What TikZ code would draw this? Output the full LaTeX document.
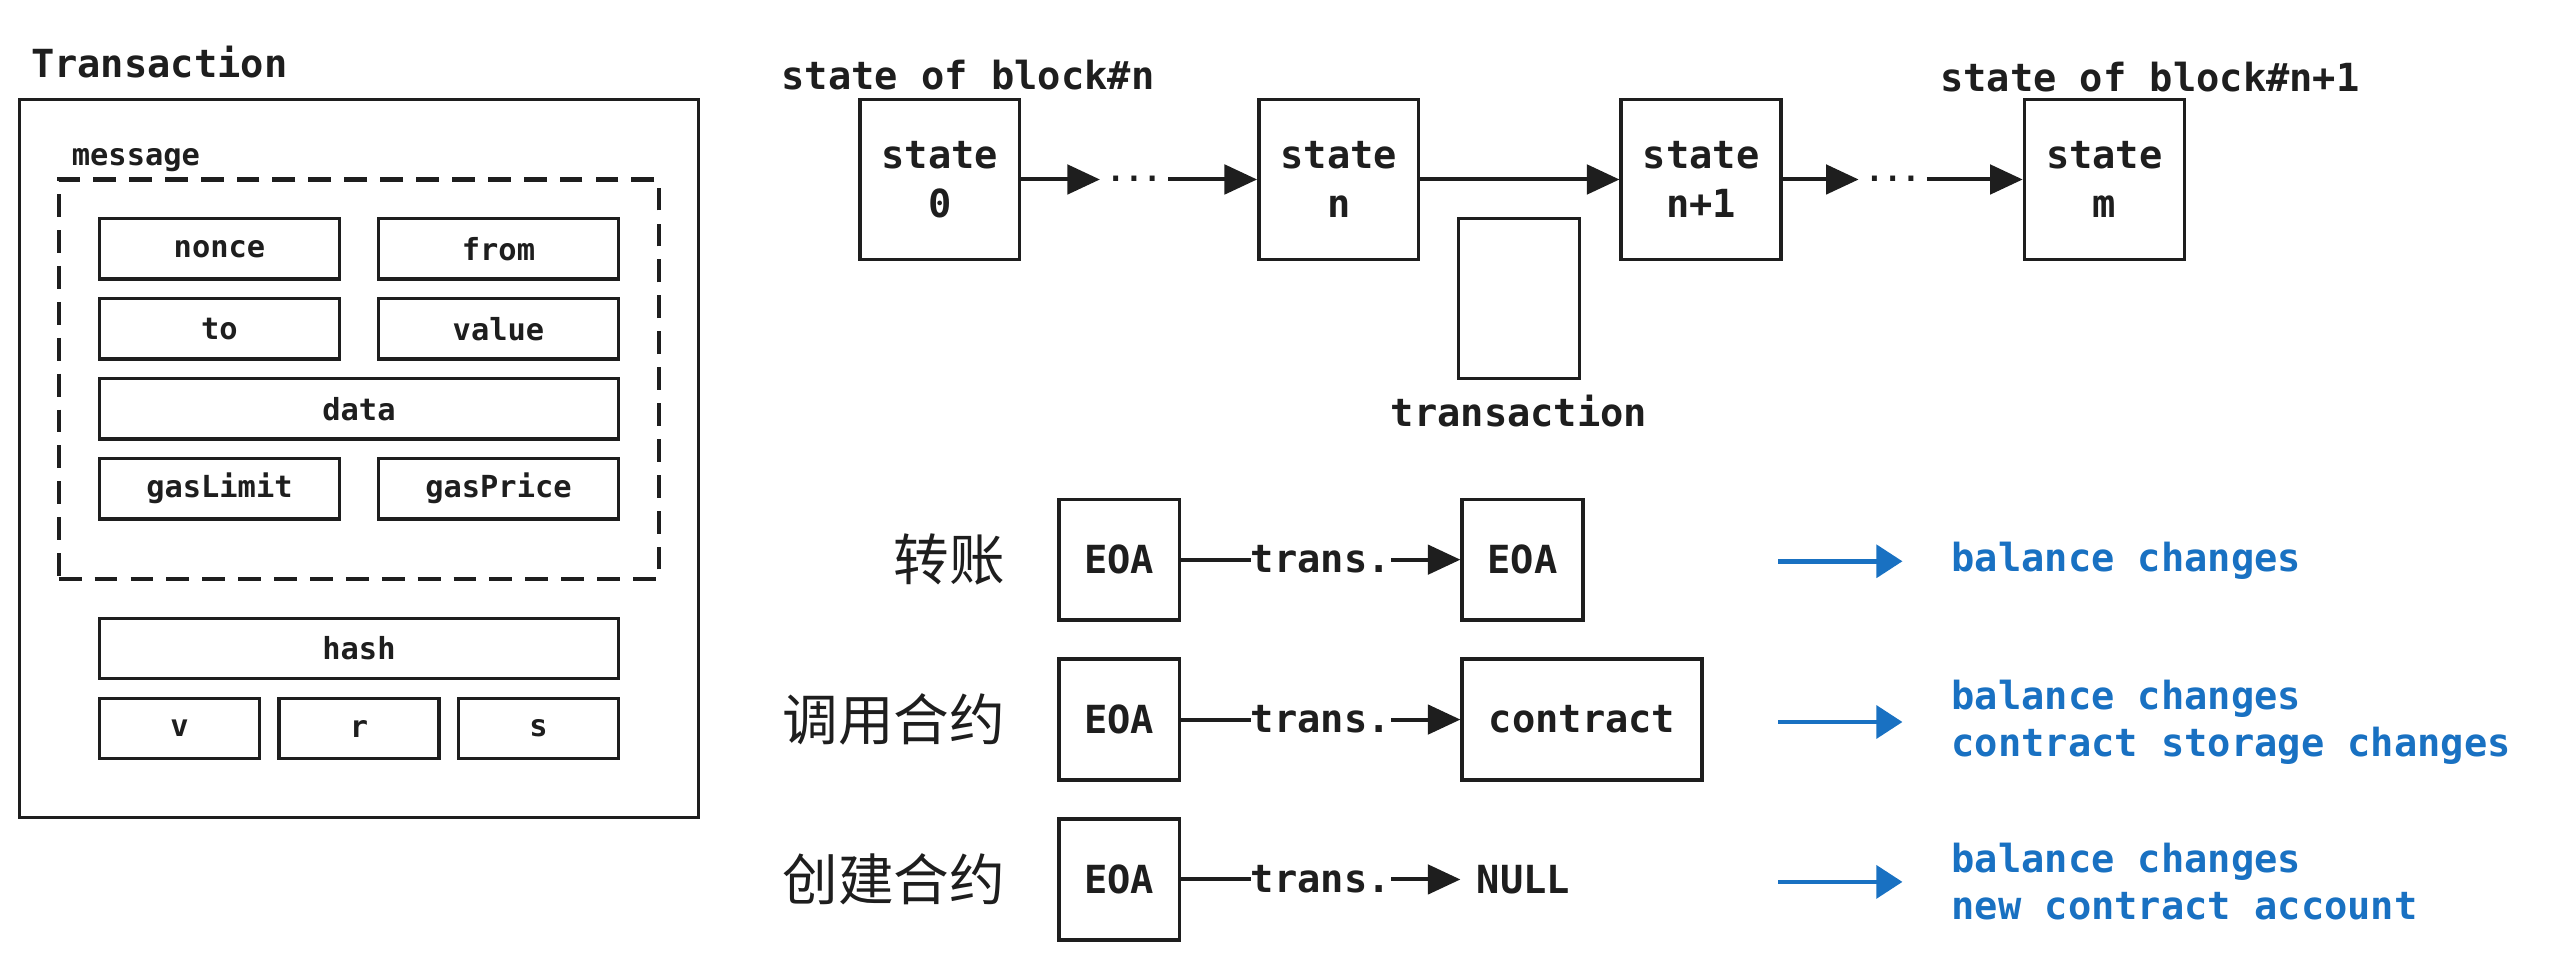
\documentclass[tikz,border=0pt]{standalone}
\usepackage{fontspec}
\setmonofont{DejaVu Sans Mono}
\newfontfamily\cjkfont{Noto Sans CJK SC}
\usepackage{tikz}
\usetikzlibrary{positioning,arrows.meta}
\definecolor{ink}{HTML}{1E1E1E}
\definecolor{exblue}{HTML}{1971C2}
\newcommand{\titlefont}{\ttfamily\bfseries\fontsize{13.5}{17}\selectfont}
\newcommand{\fieldfont}{\ttfamily\bfseries\fontsize{10.6}{13}\selectfont}
\newcommand{\hanfont}{\cjkfont\fontsize{19.4}{23}\selectfont}

\begin{document}
\begin{tikzpicture}[node distance=0.24cm, line width=1.2pt, color=ink]
    \tikzstyle{outerbox} = [rectangle, draw, minimum width=8.32cm, minimum height=8.80cm, outer sep=0pt]
    \tikzstyle{groupbox} = [rectangle, draw, line width=1.5pt, dash pattern=on 0.28cm off 0.16cm, minimum width=7.36cm, minimum height=4.90cm]
    \tikzstyle{field} = [rectangle, draw, minimum width=2.94cm, minimum height=0.74cm, inner sep=0pt, outer sep=0pt, font=\fieldfont]
    \tikzstyle{sigfield} = [field, minimum width=1.96cm]
    \tikzstyle{caption} = [inner sep=0pt, font=\titlefont]
    \tikzstyle{statebox} = [rectangle, draw, minimum size=1.96cm, inner sep=0pt, align=center, font=\titlefont]
    \tikzstyle{dots} = [font=\fieldfont, inner xsep=0.06cm, inner ysep=0pt, text height=1.4pt, text depth=0pt]
    \tikzstyle{account} = [rectangle, draw, minimum width=1.48cm, minimum height=1.48cm, inner sep=0pt, font=\titlefont]
    \tikzstyle{flow} = [line width=1.4pt, -{Triangle[length=0.40cm, width=0.36cm]}]
    \tikzstyle{tlabel} = [fill=white, inner sep=0pt, font=\titlefont]
    \tikzstyle{result} = [anchor=west, inner sep=0pt, align=left, text=exblue, font=\ttfamily\bfseries\fontsize{13.5}{16.5}\selectfont]
    \tikzstyle{outflow} = [exblue, line width=1.6pt, -{Triangle[length=0.32cm, width=0.40cm]}, shorten >=0.58cm]

    \useasboundingbox (0,0) rectangle (31.38,-11.77);

    % Transaction entity
    \node[caption, anchor=west] (txtitle) at (0.36,-0.76) {Transaction};
    \node[outerbox] (txframe) at (4.40,-5.62) {};

    % message group
    \node[groupbox] (msg) at (4.40,-4.65) {};
    \node[anchor=west, inner sep=0pt, font=\fieldfont] (msglabel) at (0.86,-1.96) {message};

    % message fields
    \node[field] (nonce) at (2.69,-3.05) {nonce};
    \node[field, right=0.48cm of nonce] (from) {from};
    \node[field, below=of nonce] (to) {to};
    \node[field, below=of from] (value) {value};
    \node[field, minimum width=6.36cm, below=of to.south west, anchor=north west] (data) {data};
    \node[field, below=of data.south west, anchor=north west] (gaslimit) {gasLimit};
    \node[field, right=0.48cm of gaslimit] (gasprice) {gasPrice};

    % signature fields
    \node[field, minimum width=6.36cm, below=1.22cm of gaslimit.south west, anchor=north west] (hash) {hash};
    \node[sigfield, below=of hash.south west, anchor=north west] (v) {v};
    \node[sigfield, right=of v] (r) {r};
    \node[sigfield, right=of r] (s) {s};

    % State chain
    \node[caption, anchor=west] (blockn) at (9.56,-0.92) {state of block\#n};
    \node[caption, anchor=west] (blocknn) at (23.76,-0.94) {state of block\#n+1};
    \node[statebox] (s0) at (11.52,-2.20) {state\\0};
    \node[dots] (d1) at (13.90,-2.20) {...};
    \node[statebox] (sn) at (16.41,-2.20) {state\\n};
    \node[statebox, right=2.44cm of sn] (snn) {state\\n+1};
    \node[dots] (d2) at (23.20,-2.20) {...};
    \node[statebox, right=2.94cm of snn] (sm) {state\\m};

    \draw[flow] (s0) -- (d1);
    \draw[flow] (d1) -- (sn);
    \draw[flow] (sn) -- (snn);
    \draw[flow] (snn) -- (d2);
    \draw[flow] (d2) -- (sm);

    % transaction between n and n+1
    \node[rectangle, draw, minimum width=1.48cm, minimum height=1.96cm] (txbox) at (18.62,-3.66) {};
    \node[caption, below=0.16cm of txbox] (txlabel) {transaction};

    % Transfer
    \node[account] (eoa1) at (13.72,-6.86) {EOA};
    \node[account, right=3.42cm of eoa1] (eoa1t) {EOA};
    \node[left=0.62cm of eoa1, inner sep=0pt, font=\hanfont] (transfer) {转账};
    \draw[flow] (eoa1) -- node[tlabel] {trans.} (eoa1t);

    % Contract call
    \node[account] (eoa2) at (13.72,-8.82) {EOA};
    \node[account, minimum width=2.94cm, right=3.42cm of eoa2] (contract) {contract};
    \node[left=0.62cm of eoa2, inner sep=0pt, font=\hanfont] (call) {调用合约};
    \draw[flow] (eoa2) -- node[tlabel] {trans.} (contract);

    % Contract creation
    \node[account] (eoa3) at (13.72,-10.78) {EOA};
    \node[right=3.42cm of eoa3, inner sep=0.18cm, font=\titlefont] (null) {NULL};
    \node[left=0.62cm of eoa3, inner sep=0pt, font=\hanfont] (create) {创建合约};
    \draw[flow] (eoa3) -- node[tlabel] {trans.} (null);

    % Effects
    \node[result] (res1) at (23.90,-6.88) {balance changes};
    \node[result] (res2) at (23.90,-8.85) {balance changes\\contract storage changes};
    \node[result] (res3) at (23.90,-10.81) {balance changes\\new contract account};
    \coordinate (out1) at (21.80,-6.88);
    \coordinate (out2) at (21.80,-8.85);
    \coordinate (out3) at (21.80,-10.81);
    \draw[outflow] (out1) -- (res1);
    \draw[outflow] (out2) -- (res2);
    \draw[outflow] (out3) -- (res3);

\end{tikzpicture}
\end{document}
